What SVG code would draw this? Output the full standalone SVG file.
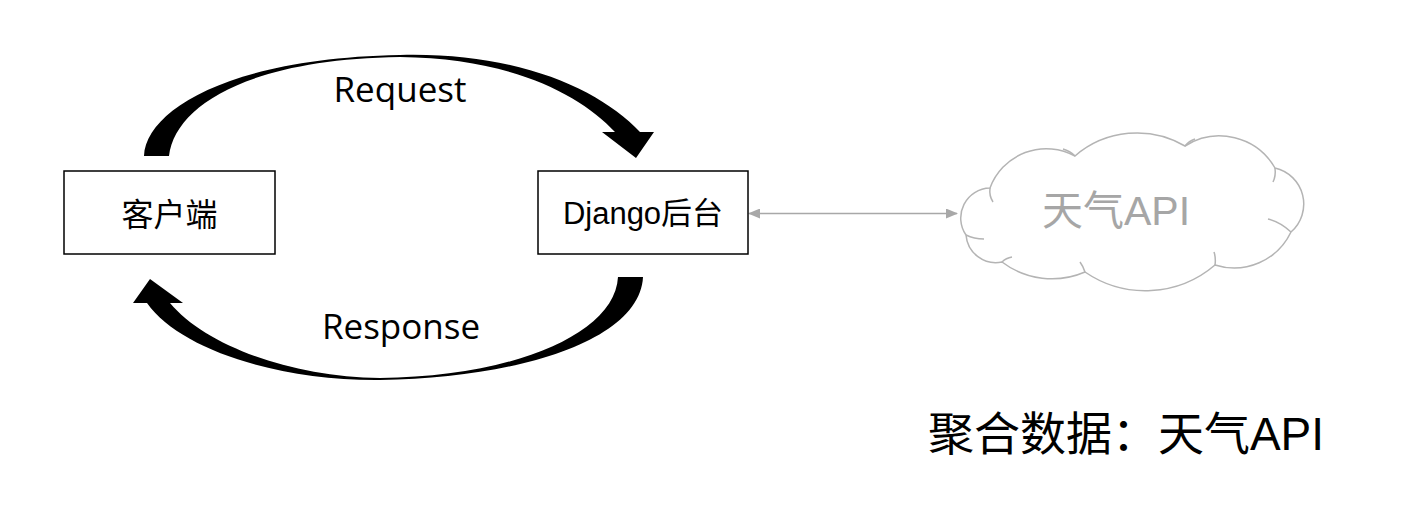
<svg xmlns="http://www.w3.org/2000/svg" width="1422" height="532" viewBox="0 0 1422 532">
  <defs>
    <style>
      .box { fill: #ffffff; stroke: #000000; stroke-width: 1.5; }
      .lbl { font-family: "Liberation Sans", "Noto Sans CJK SC", sans-serif; fill: #000000; text-anchor: middle; }
      .arrowlbl { font-family: "Open Sans", "Liberation Sans", sans-serif; font-size: 35px; fill: #000000; text-anchor: middle; }
      .block { fill: #000000; stroke: none; }
      .cloud { fill: #ffffff; stroke: #b4b4b4; stroke-width: 1.5; }
      .cloudin { fill: none; stroke: #b4b4b4; stroke-width: 1.5; }
      .link { stroke: #a8a8a8; stroke-width: 1.5; fill: none; }
    </style>
    <marker id="gh" viewBox="0 0 12 10" refX="11" refY="5" markerWidth="12" markerHeight="10" markerUnits="userSpaceOnUse" orient="auto-start-reverse">
      <path d="M0,0 L12,5 L0,10 Z" fill="#a8a8a8"/>
    </marker>
  </defs>
  <rect width="1422" height="532" fill="#ffffff"/>

  <g id="connectors">
    <path id="request-arrow" class="block" d="M144,156 C146,110 230,58 400,55 C520,52 600,90 640,132 L654,132 L636,158 L602,132 L615,132 C580,94 510,58 400,57 C250,59 175,105 169,156 Z"/>
    <path id="response-arrow" class="block" d="M643,277 C640,340 520,378 380,380 C280,381 180,350 147,303 L133,303 L150,279 L183,303 L170,303 C205,345 290,377 380,378 C510,377 615,335 618,277 Z"/>
    <line id="api-link" class="link" x1="749" y1="213.5" x2="957" y2="213.5" marker-start="url(#gh)" marker-end="url(#gh)"/>
    <text class="arrowlbl" x="400" y="102">Request</text>
    <text class="arrowlbl" x="401" y="339">Response</text>
  </g>

  <g id="client">
    <rect class="box" x="64" y="171" width="211" height="83"/>
    <text class="lbl" x="169.5" y="226" font-size="32">客户端</text>
  </g>

  <g id="django">
    <rect class="box" x="538" y="171" width="210" height="83"/>
    <text class="lbl" x="643" y="224" font-size="31">Django后台</text>
  </g>

  <g id="weather-api">
    <path class="cloud" d="M966,235 A30,30 0 0 1 990,188 A60,60 0 0 1 1075,156 A95,95 0 0 1 1185,146 A64,64 0 0 1 1275,168 A37,37 0 0 1 1291,232 A63,63 0 0 1 1215,265 A107,107 0 0 1 1085,272 A83,83 0 0 1 1002,262 A30,30 0 0 1 966,235 Z"/>
    <path class="cloudin" d="M990,188 Q989,196 993,202"/>
    <path class="cloudin" d="M1075,156 Q1070,151 1063,149"/>
    <path class="cloudin" d="M1185,146 Q1189,141 1195,139"/>
    <path class="cloudin" d="M1275,168 Q1276,176 1273,182"/>
    <path class="cloudin" d="M1291,232 Q1280,222 1268,219"/>
    <path class="cloudin" d="M1215,265 Q1216,258 1214,252"/>
    <path class="cloudin" d="M1085,272 Q1083,266 1080,262"/>
    <path class="cloudin" d="M1002,262 Q1006,258 1012,257"/>
    <path class="cloudin" d="M966,235 Q974,239 984,239"/>
    <text x="1116" y="225" font-size="41" fill="#a6a6a6" text-anchor="middle" font-family="Liberation Sans, Noto Sans CJK SC, sans-serif">天气API</text>
  </g>

  <g id="caption">
    <text x="1126" y="450" font-size="46" fill="#000000" text-anchor="middle" font-family="Liberation Sans, Noto Sans CJK SC, sans-serif">聚合数据：天气API</text>
  </g>
</svg>
